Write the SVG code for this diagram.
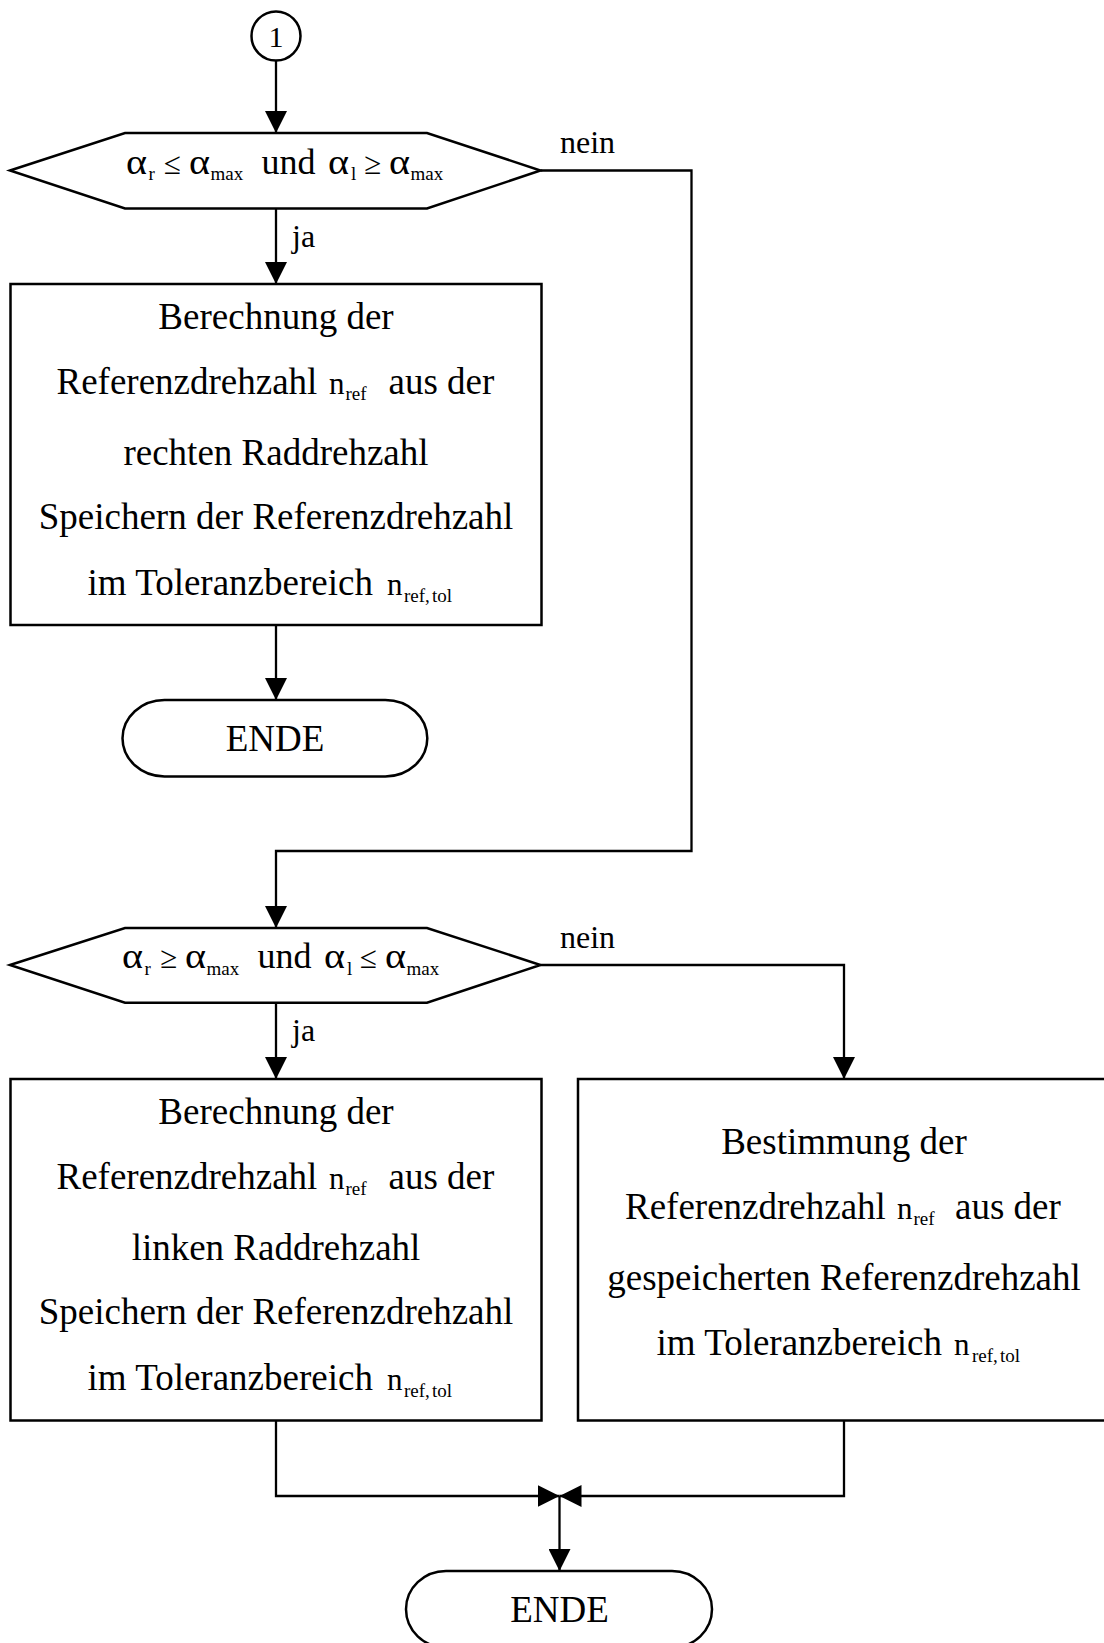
<svg xmlns="http://www.w3.org/2000/svg" width="1104" height="1643" viewBox="0 0 1104 1643">
<style>
.shape{fill:#fff;stroke:#000;stroke-width:2.5}
.line{fill:none;stroke:#000;stroke-width:2.3}
.t{font-family:"Liberation Serif","Times New Roman",serif;fill:#000}
.m{font-size:37px}
.c{text-anchor:middle}
.nn{font-size:31px}
.sub{font-size:19px}
.a{font-size:36px}
.op{font-size:31px}
.lbl{font-size:32px}
</style>
<defs>
<marker id="arr" markerUnits="userSpaceOnUse" markerWidth="22" markerHeight="22" refX="22" refY="11" orient="auto">
<path d="M0,0 L22,11 L0,22 Z" fill="#000"/>
</marker>
</defs>
<rect width="1104" height="1643" fill="#fff"/>

<g id="connectors">
<path class="line" d="M276,61 V133" marker-end="url(#arr)"/>
<path class="line" d="M276,208.5 V284" marker-end="url(#arr)"/>
<path class="line" d="M540.5,170.5 H691.5 V851 H276 V928" marker-end="url(#arr)"/>
<path class="line" d="M276,625 V700" marker-end="url(#arr)"/>
<path class="line" d="M276,1002.7 V1079" marker-end="url(#arr)"/>
<path class="line" d="M540.5,965 H844 V1079" marker-end="url(#arr)"/>
<path class="line" d="M276,1420.5 V1496 H559.5" marker-end="url(#arr)"/>
<path class="line" d="M844,1420.5 V1496 H559.5" marker-end="url(#arr)"/>
<path class="line" d="M559.5,1496 V1571" marker-end="url(#arr)"/>
<text class="t lbl" x="292" y="247">ja</text>
<text class="t lbl" x="560" y="153">nein</text>
<text class="t lbl" x="292" y="1041">ja</text>
<text class="t lbl" x="560" y="947.5">nein</text>
</g>

<g id="start">
<circle class="shape" cx="276" cy="36" r="24.5"/>
<text class="t c" x="276" y="47" font-size="30">1</text>
</g>

<g id="decision1">
<polygon class="shape" points="10,170.5 125,133 427,133 540.5,170.5 427,208.5 125,208.5"/>
<text class="t a" x="126" y="173.5" textLength="21" lengthAdjust="spacingAndGlyphs">α</text>
<text class="t sub" x="148.5" y="180">r</text>
<text class="t op" x="164" y="173.5">≤</text>
<text class="t a" x="189" y="173.5" textLength="21" lengthAdjust="spacingAndGlyphs">α</text>
<text class="t sub" x="210.5" y="180">max</text>
<text class="t a" x="261.5" y="173.5">und</text>
<text class="t a" x="328" y="173.5" textLength="21" lengthAdjust="spacingAndGlyphs">α</text>
<text class="t sub" x="351" y="180">l</text>
<text class="t op" x="364" y="173.5">≥</text>
<text class="t a" x="389" y="173.5" textLength="21" lengthAdjust="spacingAndGlyphs">α</text>
<text class="t sub" x="410.5" y="180">max</text>
</g>

<g id="process1">
<rect class="shape" x="10.5" y="284" width="531" height="341"/>
<text class="t m c" x="276" y="328.5">Berechnung der</text>
<text class="t m" x="56.5" y="394">Referenzdrehzahl</text>
<text class="t nn" x="329" y="394">n</text>
<text class="t sub" x="345.5" y="400">ref</text>
<text class="t m" x="388.5" y="394">aus der</text>
<text class="t m c" x="276" y="464.5">rechten Raddrehzahl</text>
<text class="t m c" x="276" y="529">Speichern der Referenzdrehzahl</text>
<text class="t m" x="87.5" y="595">im Toleranzbereich</text>
<text class="t nn" x="387" y="595">n</text>
<text class="t sub" y="601.5"><tspan x="404">ref</tspan><tspan x="425">,</tspan><tspan x="432">tol</tspan></text>
</g>

<g id="end1">
<path class="shape" d="M164.5,700 H385.3 A42,38.25 0 0 1 385.3,776.5 H164.5 A42,38.25 0 0 1 164.5,700 Z"/>
<text class="t m c" x="275" y="751">ENDE</text>
</g>

<g id="decision2">
<polygon class="shape" points="10,965 125,928 427,928 540.5,965 427,1002.7 125,1002.7"/>
<text class="t a" x="122" y="968" textLength="21" lengthAdjust="spacingAndGlyphs">α</text>
<text class="t sub" x="144.5" y="974.5">r</text>
<text class="t op" x="160" y="968">≥</text>
<text class="t a" x="185" y="968" textLength="21" lengthAdjust="spacingAndGlyphs">α</text>
<text class="t sub" x="206.5" y="974.5">max</text>
<text class="t a" x="257.5" y="968">und</text>
<text class="t a" x="324" y="968" textLength="21" lengthAdjust="spacingAndGlyphs">α</text>
<text class="t sub" x="347" y="974.5">l</text>
<text class="t op" x="360" y="968">≤</text>
<text class="t a" x="385" y="968" textLength="21" lengthAdjust="spacingAndGlyphs">α</text>
<text class="t sub" x="406.5" y="974.5">max</text>
</g>

<g id="process2">
<rect class="shape" x="10.5" y="1079" width="531" height="341.5"/>
<text class="t m c" x="276" y="1123.5">Berechnung der</text>
<text class="t m" x="56.5" y="1189">Referenzdrehzahl</text>
<text class="t nn" x="329" y="1189">n</text>
<text class="t sub" x="345.5" y="1195">ref</text>
<text class="t m" x="388.5" y="1189">aus der</text>
<text class="t m c" x="276" y="1259.5">linken Raddrehzahl</text>
<text class="t m c" x="276" y="1324">Speichern der Referenzdrehzahl</text>
<text class="t m" x="87.5" y="1390">im Toleranzbereich</text>
<text class="t nn" x="387" y="1390">n</text>
<text class="t sub" y="1396.5"><tspan x="404">ref</tspan><tspan x="425">,</tspan><tspan x="432">tol</tspan></text>
</g>

<g id="process3">
<rect class="shape" x="578" y="1079" width="540" height="341.5"/>
<text class="t m c" x="844" y="1153.5">Bestimmung der</text>
<text class="t m" x="625" y="1218.5">Referenzdrehzahl</text>
<text class="t nn" x="897" y="1218.5">n</text>
<text class="t sub" x="913.5" y="1224.5">ref</text>
<text class="t m" x="955" y="1218.5">aus der</text>
<text class="t m c" x="844" y="1290">gespeicherten Referenzdrehzahl</text>
<text class="t m" x="656.5" y="1355">im Toleranzbereich</text>
<text class="t nn" x="954" y="1355">n</text>
<text class="t sub" y="1361.5"><tspan x="972">ref</tspan><tspan x="993">,</tspan><tspan x="1000">tol</tspan></text>
</g>

<g id="end2">
<path class="shape" d="M446,1571 H672 A40,38.25 0 0 1 672,1647.5 H446 A40,38.25 0 0 1 446,1571 Z"/>
<text class="t m c" x="559.5" y="1622">ENDE</text>
</g>
</svg>
